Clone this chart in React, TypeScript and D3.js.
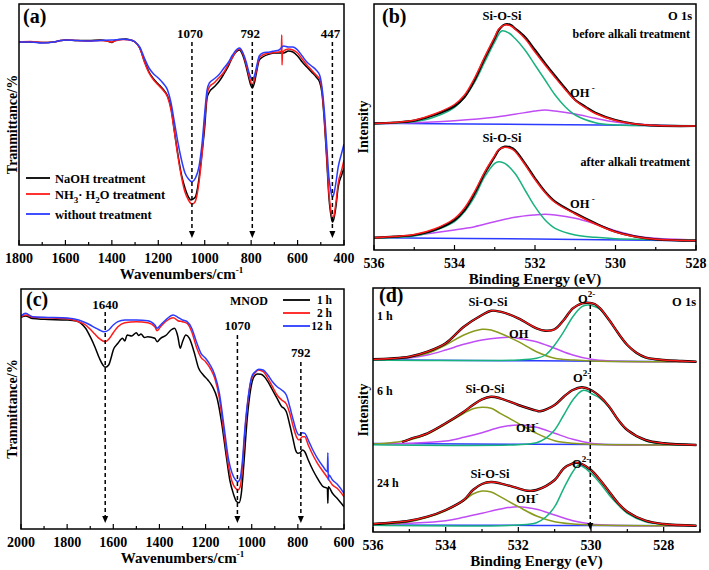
import React from 'react';
import * as d3 from 'd3';

type Pt = [number, number];

// ---------- Panel (a): FTIR, three treatments ----------
const aNaOH: Pt[] = [[1800,203],[1750,203],[1700,202.5],[1650,203],[1620,204.5],[1600,205],[1550,204.5],[1500,204.5],[1450,205],[1420,204],[1400,202.5],[1390,204],[1370,205.5],[1340,206],[1320,205],[1300,203],[1280,197],[1260,184],[1240,173],[1220,166],[1200,161],[1180,156],[1160,149],[1145,137],[1130,113],[1115,90],[1100,70],[1085,57],[1070,48],[1060,45],[1050,46],[1040,48],[1030,58],[1015,85],[1000,118],[990,147],[980,153],[960,158],[940,163],[920,170],[900,178],[880,188],[860,194],[850,195],[835,189],[820,177],[810,167],[800,159],[795,157],[785,163],[775,175],[765,185],[750,188],[720,191],[700,192],[680,192],[660,192],[640,194],[620,193],[600,189],[580,183],[560,178],[540,173],[520,168],[505,163],[495,152],[485,125],[475,88],[465,48],[455,28],[450,23],[445,25],[435,38],[425,58],[410,70],[400,77]];
const aNH3: Pt[] = [[1800,203],[1750,203.5],[1700,202.5],[1650,203],[1620,204.5],[1600,205],[1550,204.5],[1500,204],[1450,204.5],[1420,204],[1400,203],[1380,204.5],[1350,205.5],[1320,205],[1300,203],[1280,197],[1260,183],[1240,172],[1220,165],[1200,160],[1180,155],[1160,148],[1145,135],[1130,112],[1115,88],[1100,68],[1085,53],[1070,45],[1055,41],[1045,42],[1035,48],[1025,62],[1010,95],[1000,125],[990,150],[980,158],[960,162],[940,167],[920,172],[900,180],[880,188],[860,195],[850,196],[835,191],[820,179],[810,170],[800,162],[795,160],[785,167],[775,177],[765,187],[750,190],[720,192],[700,192.5],[680,193],[670,194],[668,210],[667,180],[665,193],[640,196],[620,195],[600,192],[580,186],[560,180],[540,175],[520,170],[505,166],[495,155],[485,128],[475,92],[465,52],[455,32],[450,27],[445,28],[435,42],[425,62],[410,75],[400,85]];
const aWithout: Pt[] = [[1800,203],[1750,203],[1700,202],[1650,203],[1620,204.5],[1600,205],[1550,204.5],[1500,204],[1450,204.5],[1400,205],[1350,205.7],[1320,205],[1300,203],[1280,198],[1260,187],[1240,177],[1220,171],[1200,167],[1180,162],[1160,155],[1145,142],[1130,122],[1115,102],[1100,85],[1085,72],[1070,66],[1055,63.3],[1040,67],[1025,78],[1010,105],[1000,132],[990,155],[980,162],[960,166],[940,170],[920,176],[900,182],[880,190],[860,196],[850,197],[835,192],[820,182],[810,173],[800,167],[795,165],[785,170],[775,180],[765,189],[750,192],[720,193],[700,194],[680,195],[660,199],[640,198],[620,198],[600,195],[580,189],[560,183],[540,179],[520,175],[505,170],[495,158],[485,135],[475,102],[465,68],[455,52],[450,48],[445,50],[435,62],[425,78],[410,92],[400,101]];
const aArrowPos = [1055, 795, 450];
const aArrowLabels = ['1070', '792', '447'];
const aArrowTop = [203, 203, 203];
const aArrowBottom = 7;
const aTicks = [1800, 1600, 1400, 1200, 1000, 800, 600, 400];
const aLegend = ['NaOH treatment', 'NH3·H2O treatment', 'without treatment'];

// ---------- Panel (b): XPS O 1s before / after alkali ----------
const bRawBefore: Pt[] = [[536,126.7],[535.5,127.5],[535,129.3],[534.5,135],[534,144],[533.75,153],[533.5,170],[533.25,191.7],[533,211.7],[532.9,220],[532.75,225.5],[532.6,225],[532.5,221.7],[532.25,213],[532,200],[531.75,186.7],[531.5,174],[531.25,161.7],[531,150],[530.75,143.3],[530.5,137.3],[530,130],[529.5,126],[529,124.3],[528,124]];
const bFitBefore: Pt[] = [[536,126.5],[535.5,127.5],[535,129.8],[534.5,136],[534,145.5],[533.75,155],[533.5,172],[533.25,193],[533,213],[532.9,221],[532.75,225],[532.6,224],[532.5,221],[532.25,211.5],[532,198],[531.75,185],[531.5,172.5],[531.25,160.5],[531,149.5],[530.75,142.5],[530.5,136.5],[530,129.5],[529.5,126],[529,124.5],[528,124]];
const bSiBefore: Pt[] = [[536,126],[535.5,127],[535,128.3],[534.5,133],[534,142.7],[533.75,153],[533.5,168],[533.25,188],[533,208],[532.83,219],[532.65,217],[532.5,211.7],[532.25,200],[532,185],[531.75,170],[531.5,155],[531.25,143.3],[531,135],[530.5,127.3],[530,125],[529,124.5],[528,124.3]];
const bOHBefore: Pt[] = [[536,126],[535,127.3],[534,129.3],[533,132.7],[532.5,135.7],[532,139],[531.75,140],[531.5,139],[531,136],[530.5,131.7],[530,128],[529.5,126],[529,125],[528,124]];
const bBaseBefore: Pt[] = [[536,126.7],[532,125.5],[528,124]];
const bRawAfter: Pt[] = [[536,12.3],[535.5,13.3],[535,15],[534.5,20],[534,30],[533.75,40],[533.5,56.7],[533.25,76.7],[533,93.3],[532.9,100],[532.75,103.3],[532.6,102.5],[532.5,100],[532.25,86.7],[532,71.7],[531.75,58.3],[531.5,48.3],[531,36.7],[530.5,26.7],[530,18.3],[529.5,13.3],[529,10.7],[528,9.3]];
const bFitAfter: Pt[] = [[536,12.3],[535.5,13.5],[535,15.5],[534.5,21],[534,31.5],[533.75,42],[533.5,58.5],[533.25,78],[533,94.5],[532.9,100.5],[532.75,102.8],[532.6,101.5],[532.5,98.8],[532.25,85.5],[532,70.5],[531.75,57.5],[531.5,47.5],[531,36],[530.5,26],[530,18],[529.5,13.3],[529,10.8],[528,9.5]];
const bSiAfter: Pt[] = [[536,12],[535,14],[534.5,19.3],[534,28.3],[533.75,38.3],[533.5,53.3],[533.25,73.3],[533,86.7],[532.9,88.3],[532.75,86.7],[532.5,76.7],[532.25,60],[532,43.3],[531.75,30],[531.5,21.7],[531,15],[530.5,12.7],[530,11.3],[528,10]];
const bOHAfter: Pt[] = [[536,12],[535,14.7],[534,20],[533.5,23.3],[533,28.3],[532.5,32.7],[532,35],[531.75,35.7],[531.5,35],[531,31.7],[530.5,26],[530,19.3],[529.5,14],[529,11.7],[528,10]];
const bBaseAfter: Pt[] = [[536,12.3],[532,11],[528,9.3]];
const bTicks = [536, 534, 532, 530, 528];

// ---------- Panel (c): FTIR MNOD 1 h / 2 h / 12 h ----------
const c1h: Pt[] = [[2000,211.7],[1980,213],[1950,210.5],[1900,209.7],[1800,209],[1760,208],[1740,205.7],[1720,200.7],[1700,192.3],[1680,182.3],[1660,170.7],[1645,164],[1635,161.7],[1620,164],[1610,170.7],[1600,179],[1580,185.7],[1560,190.7],[1550,188],[1540,194],[1520,193],[1500,196.3],[1490,193.5],[1480,195],[1465,191.5],[1450,192.3],[1420,190.7],[1410,187.3],[1395,190.7],[1370,194],[1350,199],[1335,200.7],[1320,192.3],[1310,180.7],[1300,187.3],[1285,194],[1270,190.7],[1250,177.3],[1230,160.7],[1210,154],[1190,149],[1170,142.3],[1150,130.7],[1130,105.7],[1110,72.3],[1095,49],[1080,35.7],[1065,27.3],[1055,26.3],[1045,35.7],[1035,62.3],[1020,109],[1005,139],[990,152.3],[975,155],[960,154.7],[945,152.3],[930,147.3],[910,139],[890,130.7],[870,122.3],[860,120.7],[850,117.3],[835,104],[820,89],[810,79],[800,75.7],[790,76.3],[780,79],[770,77.3],[755,69],[735,59],[715,50.7],[690,42.3],[672,40.7],[670,25.7],[668,42.3],[650,35.7],[630,30.7],[600,22.3]];
const c2h: Pt[] = [[2000,212.3],[1980,214],[1950,211.8],[1900,211.3],[1800,210.3],[1750,207.3],[1720,204],[1700,199.7],[1680,195],[1660,190.3],[1645,188],[1635,187.3],[1620,189.7],[1600,196.3],[1580,202.3],[1550,206.3],[1500,207.3],[1450,206.3],[1420,202.3],[1410,198.3],[1395,202.3],[1370,208],[1340,211.3],[1320,208.3],[1300,207.3],[1280,205.7],[1260,197.3],[1240,182.3],[1220,171.7],[1200,167.3],[1180,160.7],[1160,150.7],[1140,130.7],[1120,95.7],[1100,62.3],[1085,47.3],[1070,40.7],[1060,39],[1050,42.3],[1040,62.3],[1030,95.7],[1015,130.7],[1000,150.7],[985,156.3],[970,159],[950,157.3],[930,150.7],[910,142.3],[890,134],[870,129],[850,125],[835,115.7],[820,102.3],[805,91.7],[795,89],[780,92.3],[770,92.3],[755,84],[735,74],[715,65.7],[690,57.3],[670,50.7],[650,44],[630,40.7],[600,32.3]];
const c12h: Pt[] = [[2000,213],[1980,215.7],[1950,212.3],[1900,211.7],[1800,211],[1750,209],[1720,206.3],[1700,204],[1680,201.3],[1660,199],[1640,197.3],[1620,199],[1600,204],[1580,207.3],[1550,209],[1500,209],[1450,208.3],[1420,204],[1410,200.7],[1395,204],[1370,209.7],[1340,214],[1320,211.7],[1300,209],[1280,207.3],[1260,200.7],[1240,187.3],[1220,175.7],[1200,170.7],[1180,164],[1160,154],[1140,135.7],[1120,102.3],[1100,69],[1085,55.7],[1070,49],[1060,47.3],[1050,50.7],[1040,69],[1030,99],[1015,132.3],[1000,152.3],[985,157.3],[970,159.7],[950,159],[930,154],[910,147.3],[890,142.3],[870,139],[850,134],[835,122.3],[820,109],[805,97.3],[795,94],[780,96.3],[770,95.7],[755,89],[735,79],[715,70.7],[690,62.3],[672,57.3],[670,76.3],[668,49],[665,54],[650,49],[630,45],[600,35.7]];
const cArrowPos = [1635, 1062, 787];
const cArrowLabels = ['1640', '1070', '792'];
const cArrowTop = [217, 194, 167];
const cArrowBottom = 6;
const cTicks = [2000, 1800, 1600, 1400, 1200, 1000, 800, 600];
const cLegend = ['1 h', '2 h', '12 h'];

// ---------- Panel (d): XPS O 1s at 1 h / 6 h / 24 h ----------
const d1Env: Pt[] = [[536,172.7],[535.5,173.5],[535,175.3],[534.5,180.3],[534,188.7],[533.5,205.3],[533,217],[532.75,221.3],[532.5,220.3],[532,213.7],[531.5,203.7],[531.25,201.3],[531,202.7],[530.75,212],[530.5,223.7],[530.25,228.7],[530.1,229.3],[529.9,228],[529.75,223.7],[529.5,212],[529.25,198.7],[529,187],[528.75,179.3],[528.5,174.7],[528,172],[527.5,171],[527.1,170.3]];
const d1Si: Pt[] = [[536,172.7],[535,174.7],[534.5,178.7],[534,187],[533.5,197],[533,202.7],[532.75,202],[532.5,198.7],[532,190.3],[531.5,180.3],[531,173.7],[530.5,172],[530,171],[527.1,170.3]];
const d1OH: Pt[] = [[536,172.7],[535,174],[534.5,177],[534,182],[533.5,187.7],[533,192],[532.5,194.3],[532.25,194.7],[532,193.7],[531.5,190.3],[531,183.7],[530.5,177],[530,172.7],[529.5,171],[527.1,170.3]];
const d1O: Pt[] = [[536,172],[532,172],[531.5,173.7],[531.25,177],[531,187],[530.75,200.3],[530.5,215.3],[530.25,225.3],[530.1,227],[529.9,225.5],[529.75,222.7],[529.5,212],[529.25,198.7],[529,187],[528.75,178.7],[528.5,174.3],[528,171.7],[527.1,170.3]];
const d1Base: Pt[] = [[536,172.2],[531.5,171.2],[527.1,170.3]];
const d6Env: Pt[] = [[535.2,90],[535,92.7],[534.5,98.7],[534,108.7],[533.5,120.3],[533.25,127],[533,132.7],[532.75,135.3],[532.5,133.7],[532,127],[531.5,121.3],[531.4,120.8],[531,127],[530.75,135.3],[530.5,142],[530.25,144.7],[530,142],[529.75,135.3],[529.5,125.3],[529.25,112],[529,102],[528.5,92],[528,88.7],[527.1,87]];
const d6Si: Pt[] = [[536,88],[535.5,89.3],[535,92],[534.5,98],[534,108],[533.5,118.7],[533.25,123.3],[533,124.7],[532.75,123.7],[532.5,118.7],[532,108.7],[531.5,98.7],[531,91.3],[530.5,88.7],[530,87.7],[527.1,87]];
const d6OH: Pt[] = [[536,87.7],[535,88.7],[534,91],[533.5,94.7],[533,99.3],[532.5,104.7],[532,107],[531.5,104.7],[531,98.7],[530.5,92.7],[530,88.7],[529.5,87.3],[527.1,87]];
const d6O: Pt[] = [[536,87.3],[532,87.3],[531.5,89.3],[531.25,93.7],[531,102],[530.75,117],[530.5,132],[530.25,141.3],[530.1,141],[530,138.7],[529.75,133.7],[529.5,124.7],[529.25,112],[529,102],[528.5,91.3],[528,88],[527.1,87]];
const d6Base: Pt[] = [[536,88.5],[531.5,87.7],[527.1,87]];
const d24Env: Pt[] = [[536,8],[535,11.3],[534.5,15.3],[534,22],[533.5,32],[533.25,42],[533,48],[532.75,50],[532.5,48.7],[532,43.7],[531.75,41.3],[531.5,42],[531,52],[530.75,63.7],[530.5,68.7],[530.4,69.3],[530.25,68],[530,62],[529.75,52],[529.5,40.3],[529.25,28.7],[529,20.3],[528.5,11.3],[528,8],[527.1,6.3]];
const d24Si: Pt[] = [[536,7.3],[535,10.3],[534.5,14.7],[534,21.3],[533.5,31.3],[533.25,38],[533,41],[532.75,40],[532.5,35.3],[532,25.3],[531.5,16],[531,10.3],[530.5,8],[530,7],[527.1,6.3]];
const d24OH: Pt[] = [[536,7.3],[535,8.7],[534,11.3],[533.5,14.7],[533,18.7],[532.5,23],[532,25.3],[531.5,22.7],[531,17],[530.5,11.3],[530,8],[529.5,6.7],[527.1,6.3]];
const d24O: Pt[] = [[536,6.7],[532,7],[531.5,9.3],[531.25,14.7],[531,25.3],[530.75,43.7],[530.5,60.3],[530.35,66.7],[530.25,66],[530,58.7],[529.75,48.7],[529.5,37],[529.25,27],[529,18.7],[528.5,10.3],[528,7.7],[527.1,6.3]];
const d24Base: Pt[] = [[536,7],[531.5,6.6],[527.1,6.2]];
const dArrowPos = 530.02;
const dArrowTop = 227;
const dArrowBottom = 2;
const dTicks = [536, 534, 532, 530, 528];

const FONT = '"Liberation Serif", "Times New Roman", serif';
const BLACK = '#000000';
const RED = '#ff1a1a';
const BLUE = '#2b3bff';
const PURPLE = '#c04cf5';
const TEAL = '#19b27f';
const OLIVE = '#8a9a1c';

interface Frame { left: number; right: number; top: number; bottom: number; }
interface Series { data: Pt[]; color: string; width: number; }

function makeScales(f: Frame, xDomain: [number, number], yMax: number) {
  const x = d3.scaleLinear().domain(xDomain).range([f.left, f.right]);
  const y = d3.scaleLinear().domain([0, yMax]).range([f.bottom, f.top]);
  return { x, y };
}

function Panel(props: {
  frame: Frame; x: d3.ScaleLinear<number, number>; y: d3.ScaleLinear<number, number>;
  ticks: number[]; minorStep: number; series: Series[]; curve: any;
  xTitle: React.ReactNode; yTitle: string; yTitleX: number; tag: string; tagX: number; tagY: number;
  children?: React.ReactNode;
}) {
  const { frame: f, x, y, ticks, minorStep, series, curve } = props;
  const line = d3.line<Pt>().x(d => x(d[0])).y(d => y(d[1])).curve(curve);
  const [d0, d1] = x.domain();
  const lo = Math.min(d0, d1), hi = Math.max(d0, d1);
  const minors: number[] = [];
  for (let v = Math.ceil(lo / minorStep) * minorStep; v <= hi + 1e-9; v += minorStep) minors.push(v);
  const cy = (f.top + f.bottom) / 2;
  return (
    <g>
      <defs>
        <clipPath id={'clip' + props.tag}>
          <rect x={f.left} y={f.top} width={f.right - f.left} height={f.bottom - f.top} />
        </clipPath>
      </defs>
      <g clipPath={`url(#clip${props.tag})`}>
        {series.map((s, i) => (
          <path key={i} d={line(s.data) || ''} fill="none" stroke={s.color} strokeWidth={s.width} strokeLinejoin="round" />
        ))}
      </g>
      {props.children}
      <rect x={f.left} y={f.top} width={f.right - f.left} height={f.bottom - f.top} fill="none" stroke="#000" strokeWidth={1.5} />
      {minors.map((v, i) => (
        <line key={'m' + i} x1={x(v)} x2={x(v)} y1={f.bottom} y2={f.bottom - (ticks.some(t => Math.abs(t - v) < 1e-6) ? 5 : 3)} stroke="#000" strokeWidth={1.2} />
      ))}
      {ticks.map((t, i) => (
        <text key={'t' + i} x={x(t)} y={f.bottom + 18} textAnchor="middle" fontFamily={FONT} fontWeight="bold" fontSize={14}>{t}</text>
      ))}
      <text x={(f.left + f.right) / 2} y={f.bottom + 34} textAnchor="middle" fontFamily={FONT} fontWeight="bold" fontSize={15}>{props.xTitle}</text>
      <text transform={`translate(${props.yTitleX},${cy}) rotate(-90)`} textAnchor="middle" dominantBaseline="central" fontFamily={FONT} fontWeight="bold" fontSize={14}>{props.yTitle}</text>
      <text x={props.tagX} y={props.tagY} fontFamily={FONT} fontWeight="bold" fontSize={20}>{`(${props.tag})`}</text>
    </g>
  );
}

function Arrow(props: { x: number; y0: number; y1: number }) {
  const { x, y0, y1 } = props;
  return (
    <g>
      <line x1={x} x2={x} y1={y0} y2={y1 - 6} stroke="#000" strokeWidth={1.5} strokeDasharray="4,3" />
      <path d={`M${x - 3},${y1 - 7} L${x + 3},${y1 - 7} L${x},${y1} Z`} fill="#000" />
    </g>
  );
}

const Sup = (p: { t: string }) => <tspan dy={-6} fontSize={9}>{p.t}</tspan>;

function T(props: { x: number; y: number; anchor?: string; size?: number; children: React.ReactNode }) {
  return (
    <text x={props.x} y={props.y} textAnchor={props.anchor || 'start'} fontFamily={FONT} fontWeight="bold" fontSize={props.size || 13}>{props.children}</text>
  );
}

export default function App() {
  const fa: Frame = { left: 19, right: 344, top: 4, bottom: 245 };
  const fb: Frame = { left: 374, right: 696, top: 4, bottom: 250 };
  const fc: Frame = { left: 21, right: 344, top: 289, bottom: 529 };
  const fd: Frame = { left: 373, right: 700, top: 288, bottom: 532 };
  const sa = makeScales(fa, [1800, 400], 241);
  const sb = makeScales(fb, [536, 528], 246);
  const sc = makeScales(fc, [2000, 600], 240);
  const sd = makeScales(fd, [536, 527], 244);
  const smooth = d3.curveCatmullRom.alpha(0.5);

  const aSeries: Series[] = [
    { data: aNaOH, color: BLACK, width: 1.5 },
    { data: aNH3, color: RED, width: 1.5 },
    { data: aWithout, color: BLUE, width: 1.5 },
  ];
  const aColors = [BLACK, RED, BLUE];
  const bSeries: Series[] = [
    { data: bBaseBefore, color: BLUE, width: 1.5 },
    { data: bOHBefore, color: PURPLE, width: 1.5 },
    { data: bSiBefore, color: TEAL, width: 1.5 },
    { data: bRawBefore, color: BLACK, width: 2.2 },
    { data: bFitBefore, color: RED, width: 1.5 },
    { data: bBaseAfter, color: BLUE, width: 1.5 },
    { data: bOHAfter, color: PURPLE, width: 1.5 },
    { data: bSiAfter, color: TEAL, width: 1.5 },
    { data: bRawAfter, color: BLACK, width: 2.2 },
    { data: bFitAfter, color: RED, width: 1.5 },
  ];
  const cSeries: Series[] = [
    { data: c1h, color: BLACK, width: 1.5 },
    { data: c2h, color: RED, width: 1.5 },
    { data: c12h, color: BLUE, width: 1.5 },
  ];
  const cColors = [BLACK, RED, BLUE];
  const dSeries: Series[] = [];
  [[d1Base, d1OH, d1Si, d1O, d1Env], [d6Base, d6OH, d6Si, d6O, d6Env], [d24Base, d24OH, d24Si, d24O, d24Env]].forEach(([base, oh, si, o, env]) => {
    dSeries.push({ data: base, color: BLUE, width: 1.5 });
    dSeries.push({ data: oh, color: PURPLE, width: 1.5 });
    dSeries.push({ data: si, color: OLIVE, width: 1.5 });
    dSeries.push({ data: o, color: TEAL, width: 1.5 });
    dSeries.push({ data: env, color: BLACK, width: 2.4 });
    dSeries.push({ data: env, color: RED, width: 1.3 });
  });

  const legendRowsA = [178, 194, 214];
  const legendRowsC = [300, 313, 326];

  return (
    <svg width={709} height={570} style={{ position: 'absolute', left: 0, top: 0, background: '#fff' }}>
      <rect x={0} y={0} width={709} height={570} fill="#fff" />
      {/* (a) */}
      <Panel frame={fa} x={sa.x} y={sa.y} ticks={aTicks} minorStep={100} series={aSeries} curve={d3.curveMonotoneX}
        xTitle={<>Wavenumbers/cm<Sup t="-1" /></>} yTitle="Tranmittance/%" yTitleX={12} tag="a" tagX={23} tagY={23}>
        {aArrowPos.map((p, i) => (
          <g key={i}>
            <Arrow x={sa.x(p)} y0={sa.y(aArrowTop[i])} y1={sa.y(aArrowBottom)} />
            <T x={sa.x(p) - 2} y={38} anchor="middle">{aArrowLabels[i]}</T>
          </g>
        ))}
        {aLegend.map((l, i) => (
          <g key={i}>
            <line x1={26} x2={50} y1={legendRowsA[i]} y2={legendRowsA[i]} stroke={aColors[i]} strokeWidth={1.8} />
            <T x={55} y={legendRowsA[i] + 5} size={12.5}>
              {i === 1 ? <>NH<tspan dy={4} fontSize={9}>3</tspan><tspan dy={-4}>·  H</tspan><tspan dy={4} fontSize={9}>2</tspan><tspan dy={-4}>O treatment</tspan></> : l}
            </T>
          </g>
        ))}
      </Panel>

      {/* (b) */}
      <Panel frame={fb} x={sb.x} y={sb.y} ticks={bTicks} minorStep={1} series={bSeries} curve={smooth}
        xTitle="Binding Energy (eV)" yTitle="Intensity" yTitleX={363} tag="b" tagX={382} tagY={23}>
        <T x={502} y={20} anchor="middle" size={12.5}>Si-O-Si</T>
        <T x={692} y={20} anchor="end" size={12.5}>O 1s</T>
        <T x={690} y={38} anchor="end" size={12}>before alkali treatment</T>
        <T x={570} y={97} size={12.5}>OH<Sup t=" -" /></T>
        <T x={502} y={142} anchor="middle" size={12.5}>Si-O-Si</T>
        <T x={690} y={166} anchor="end" size={12}>after alkali treatment</T>
        <T x={570} y={208} size={12.5}>OH<Sup t=" -" /></T>
      </Panel>

      {/* (c) */}
      <Panel frame={fc} x={sc.x} y={sc.y} ticks={cTicks} minorStep={100} series={cSeries} curve={d3.curveMonotoneX}
        xTitle={<>Wavenumbers/cm<Sup t="-1" /></>} yTitle="Tranmittance/%" yTitleX={12} tag="c" tagX={26} tagY={306}>
        {cArrowPos.map((p, i) => (
          <g key={i}>
            <Arrow x={sc.x(p)} y0={sc.y(cArrowTop[i])} y1={sc.y(cArrowBottom)} />
          </g>
        ))}
        <T x={sc.x(cArrowPos[0])} y={309} anchor="middle">{cArrowLabels[0]}</T>
        <T x={sc.x(cArrowPos[1])} y={330} anchor="middle">{cArrowLabels[1]}</T>
        <T x={sc.x(cArrowPos[2])} y={357} anchor="middle">{cArrowLabels[2]}</T>
        <T x={249} y={305} anchor="middle" size={12}>MNOD</T>
        {cLegend.map((l, i) => (
          <g key={i}>
            <line x1={283} x2={310} y1={legendRowsC[i]} y2={legendRowsC[i]} stroke={cColors[i]} strokeWidth={1.8} />
            <T x={332} y={legendRowsC[i] + 4} anchor="end" size={11.5}>{l}</T>
          </g>
        ))}
      </Panel>

      {/* (d) */}
      <Panel frame={fd} x={sd.x} y={sd.y} ticks={dTicks} minorStep={1} series={dSeries} curve={smooth}
        xTitle="Binding Energy (eV)" yTitle="Intensity" yTitleX={363} tag="d" tagX={379} tagY={302}>
        <Arrow x={sd.x(dArrowPos)} y0={sd.y(dArrowTop)} y1={sd.y(dArrowBottom)} />
        <T x={377} y={320} size={12}>1 h</T>
        <T x={488} y={306} anchor="middle" size={12.5}>Si-O-Si</T>
        <T x={578} y={303} size={12.5}>O<Sup t="2-" /></T>
        <T x={696} y={306} anchor="end" size={12.5}>O 1s</T>
        <T x={509} y={338} size={12.5}>OH</T>
        <T x={377} y={395} size={12}>6 h</T>
        <T x={485} y={393} anchor="middle" size={12.5}>Si-O-Si</T>
        <T x={573} y={382} size={12.5}>O<Sup t="2-" /></T>
        <T x={516} y={432} size={12.5}>OH<Sup t="-" /></T>
        <T x={377} y={487} size={12}>24 h</T>
        <T x={490} y={478} anchor="middle" size={12.5}>Si-O-Si</T>
        <T x={572} y={468} size={12.5}>O<Sup t="2-" /></T>
        <T x={516} y={503} size={12.5}>OH<Sup t="-" /></T>
      </Panel>
    </svg>
  );
}
